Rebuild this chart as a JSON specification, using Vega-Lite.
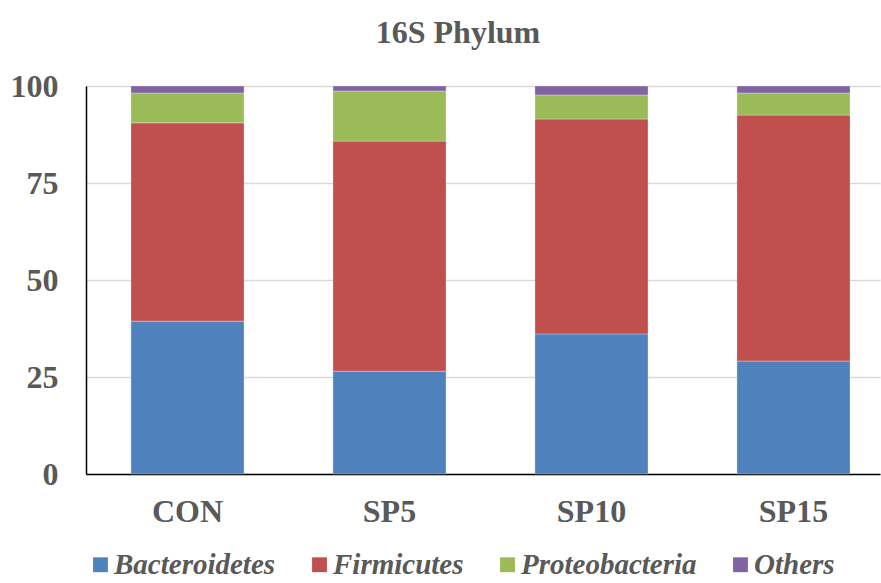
{
  "$schema": "https://vega.github.io/schema/vega-lite/v6.json",
  "autosize": "none",
  "width": 794,
  "height": 388,
  "padding": {"left": 86, "top": 86, "right": 1, "bottom": 109},
  "background": "white",
  "title": {
    "text": "16S Phylum",
    "font": "Liberation Serif",
    "fontSize": 32,
    "fontWeight": "bold",
    "color": "#595959",
    "anchor": "middle",
    "dx": -25,
    "offset": 20
  },
  "data": {
    "values": [
      {"group": "CON", "phylum": "Bacteroidetes", "ord": 1, "value": 39.4},
      {"group": "CON", "phylum": "Firmicutes", "ord": 2, "value": 51.1},
      {"group": "CON", "phylum": "Proteobacteria", "ord": 3, "value": 7.7},
      {"group": "CON", "phylum": "Others", "ord": 4, "value": 1.8},
      {"group": "SP5", "phylum": "Bacteroidetes", "ord": 1, "value": 26.5},
      {"group": "SP5", "phylum": "Firmicutes", "ord": 2, "value": 59.3},
      {"group": "SP5", "phylum": "Proteobacteria", "ord": 3, "value": 12.9},
      {"group": "SP5", "phylum": "Others", "ord": 4, "value": 1.3},
      {"group": "SP10", "phylum": "Bacteroidetes", "ord": 1, "value": 36.1},
      {"group": "SP10", "phylum": "Firmicutes", "ord": 2, "value": 55.4},
      {"group": "SP10", "phylum": "Proteobacteria", "ord": 3, "value": 6.2},
      {"group": "SP10", "phylum": "Others", "ord": 4, "value": 2.3},
      {"group": "SP15", "phylum": "Bacteroidetes", "ord": 1, "value": 29.1},
      {"group": "SP15", "phylum": "Firmicutes", "ord": 2, "value": 63.4},
      {"group": "SP15", "phylum": "Proteobacteria", "ord": 3, "value": 5.7},
      {"group": "SP15", "phylum": "Others", "ord": 4, "value": 1.8}
    ]
  },
  "mark": {"type": "bar", "stroke": "white", "strokeWidth": 0.6, "strokeOpacity": 0.5},
  "encoding": {
    "x": {
      "field": "group",
      "type": "nominal",
      "sort": ["CON", "SP5", "SP10", "SP15"],
      "scale": {"paddingInner": 0.44, "paddingOuter": 0.1854, "align": 0.6},
      "axis": {
        "title": null,
        "labelAngle": 0,
        "labelFont": "Liberation Serif",
        "labelFontSize": 32,
        "labelFontWeight": "bold",
        "labelColor": "#595959",
        "labelPadding": 22,
        "ticks": false,
        "domainColor": "#000000",
        "domainWidth": 1.5,
        "grid": false
      }
    },
    "y": {
      "field": "value",
      "type": "quantitative",
      "stack": "zero",
      "scale": {"domain": [0, 100], "nice": false},
      "axis": {
        "title": null,
        "values": [0, 25, 50, 75, 100],
        "labelFont": "Liberation Serif",
        "labelFontSize": 32,
        "labelFontWeight": "bold",
        "labelColor": "#595959",
        "labelPadding": 28,
        "ticks": false,
        "domainColor": "#000000",
        "domainWidth": 1.5,
        "grid": true,
        "gridColor": "#d9d9d9",
        "gridWidth": 1.5
      }
    },
    "color": {
      "field": "phylum",
      "type": "nominal",
      "sort": ["Bacteroidetes", "Firmicutes", "Proteobacteria", "Others"],
      "scale": {
        "domain": ["Bacteroidetes", "Firmicutes", "Proteobacteria", "Others"],
        "range": ["#4F81BD", "#C0504D", "#9BBB59", "#8064A2"]
      },
      "legend": {
        "title": null,
        "orient": "none",
        "direction": "horizontal",
        "legendX": 0,
        "legendY": 464,
        "symbolType": "square",
        "symbolSize": 220,
        "symbolStrokeWidth": 0,
        "labelFont": "Liberation Serif",
        "labelFontSize": 29,
        "labelFontWeight": "bold",
        "labelFontStyle": "italic",
        "labelColor": "#595959",
        "labelOffset": -1,
        "columnPadding": 29,
        "labelLimit": 300
      }
    },
    "order": {"field": "ord", "type": "quantitative"}
  },
  "config": {"view": {"stroke": null}}
}
